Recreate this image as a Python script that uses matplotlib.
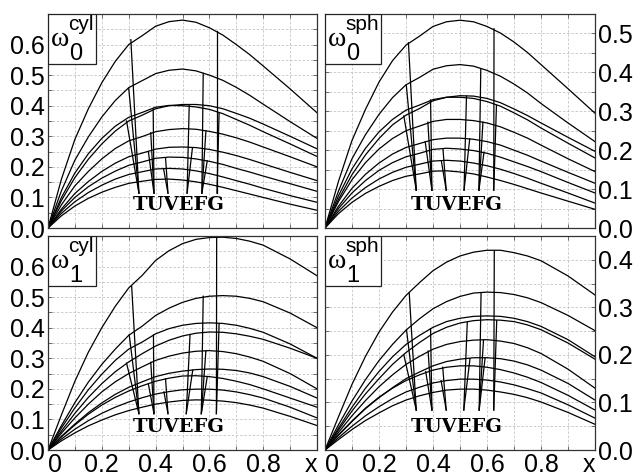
import numpy as np
import matplotlib.pyplot as plt
from matplotlib.patches import Rectangle
from matplotlib.ticker import MultipleLocator, FixedLocator

# ---------------------------------------------------------------
# datos
# ---------------------------------------------------------------

xs = [0, 0.05, 0.1, 0.15, 0.2, 0.25, 0.3, 0.35, 0.4, 0.45, 0.5,
      0.55, 0.6, 0.65, 0.7, 0.75, 0.8, 0.9, 1.0]

cyl0 = [
    [0, 0.160, 0.290, 0.390, 0.475, 0.545, 0.600, 0.629, 0.660, 0.675, 0.680, 0.673, 0.655, 0.631, 0.600, 0.567, 0.530, 0.455, 0.377],
    [0, 0.122, 0.222, 0.298, 0.363, 0.417, 0.459, 0.482, 0.505, 0.516, 0.520, 0.514, 0.500, 0.483, 0.460, 0.434, 0.405, 0.348, 0.293],
    [0, 0.090, 0.165, 0.225, 0.275, 0.317, 0.350, 0.369, 0.390, 0.400, 0.404, 0.404, 0.400, 0.390, 0.375, 0.359, 0.340, 0.300, 0.259],
    [0, 0.100, 0.180, 0.243, 0.293, 0.333, 0.362, 0.378, 0.395, 0.401, 0.400, 0.396, 0.388, 0.374, 0.355, 0.336, 0.315, 0.275, 0.234],
    [0, 0.076, 0.138, 0.185, 0.226, 0.260, 0.285, 0.299, 0.315, 0.322, 0.325, 0.323, 0.316, 0.307, 0.295, 0.281, 0.265, 0.233, 0.200],
    [0, 0.062, 0.113, 0.152, 0.185, 0.212, 0.233, 0.245, 0.258, 0.264, 0.265, 0.263, 0.257, 0.248, 0.237, 0.224, 0.210, 0.182, 0.155],
    [0, 0.056, 0.100, 0.135, 0.163, 0.186, 0.205, 0.216, 0.228, 0.232, 0.231, 0.226, 0.218, 0.208, 0.195, 0.183, 0.170, 0.145, 0.120],
    [0, 0.048, 0.086, 0.116, 0.140, 0.160, 0.175, 0.184, 0.193, 0.195, 0.193, 0.187, 0.178, 0.167, 0.155, 0.143, 0.130, 0.106, 0.084],
    [0, 0.040, 0.072, 0.097, 0.117, 0.133, 0.146, 0.153, 0.159, 0.160, 0.157, 0.151, 0.143, 0.133, 0.122, 0.111, 0.100, 0.078, 0.058],
]

sph0 = [
    [0, 0.120, 0.225, 0.305, 0.375, 0.430, 0.470, 0.493, 0.518, 0.530, 0.534, 0.530, 0.518, 0.501, 0.478, 0.451, 0.420, 0.358, 0.295],
    [0, 0.095, 0.178, 0.240, 0.292, 0.335, 0.368, 0.387, 0.408, 0.417, 0.420, 0.416, 0.405, 0.390, 0.370, 0.347, 0.320, 0.270, 0.222],
    [0, 0.074, 0.137, 0.188, 0.230, 0.265, 0.290, 0.307, 0.327, 0.336, 0.340, 0.339, 0.333, 0.322, 0.306, 0.289, 0.270, 0.233, 0.197],
    [0, 0.083, 0.152, 0.205, 0.247, 0.279, 0.303, 0.316, 0.330, 0.336, 0.336, 0.333, 0.325, 0.313, 0.296, 0.278, 0.257, 0.218, 0.180],
    [0, 0.068, 0.124, 0.168, 0.203, 0.230, 0.250, 0.262, 0.274, 0.279, 0.279, 0.276, 0.270, 0.260, 0.246, 0.231, 0.213, 0.178, 0.145],
    [0, 0.056, 0.102, 0.138, 0.167, 0.190, 0.207, 0.217, 0.227, 0.231, 0.231, 0.228, 0.222, 0.213, 0.200, 0.187, 0.172, 0.143, 0.115],
    [0, 0.050, 0.090, 0.122, 0.148, 0.168, 0.183, 0.192, 0.202, 0.205, 0.203, 0.199, 0.192, 0.182, 0.170, 0.158, 0.145, 0.117, 0.090],
    [0, 0.043, 0.077, 0.104, 0.126, 0.143, 0.156, 0.164, 0.172, 0.174, 0.172, 0.167, 0.160, 0.151, 0.140, 0.128, 0.115, 0.090, 0.064],
    [0, 0.037, 0.066, 0.089, 0.107, 0.122, 0.133, 0.139, 0.146, 0.147, 0.144, 0.139, 0.131, 0.122, 0.112, 0.101, 0.090, 0.069, 0.048],
]

cyl1 = [
    [0, 0.115, 0.225, 0.320, 0.400, 0.470, 0.530, 0.571, 0.620, 0.652, 0.675, 0.689, 0.695, 0.696, 0.692, 0.683, 0.670, 0.625, 0.570],
    [0, 0.080, 0.155, 0.222, 0.280, 0.330, 0.375, 0.405, 0.440, 0.464, 0.483, 0.496, 0.503, 0.505, 0.503, 0.496, 0.485, 0.448, 0.400],
    [0, 0.072, 0.138, 0.197, 0.248, 0.293, 0.330, 0.353, 0.380, 0.397, 0.408, 0.414, 0.416, 0.414, 0.408, 0.398, 0.385, 0.347, 0.300],
    [0, 0.062, 0.120, 0.172, 0.217, 0.256, 0.288, 0.315, 0.340, 0.359, 0.373, 0.382, 0.386, 0.385, 0.380, 0.372, 0.362, 0.333, 0.300],
    [0, 0.055, 0.105, 0.150, 0.190, 0.223, 0.250, 0.272, 0.293, 0.307, 0.317, 0.323, 0.325, 0.322, 0.315, 0.304, 0.290, 0.250, 0.200],
    [0, 0.045, 0.085, 0.122, 0.154, 0.182, 0.205, 0.223, 0.240, 0.251, 0.258, 0.263, 0.265, 0.264, 0.260, 0.252, 0.240, 0.208, 0.170],
    [0, 0.043, 0.082, 0.117, 0.147, 0.172, 0.193, 0.210, 0.225, 0.235, 0.242, 0.243, 0.240, 0.234, 0.225, 0.214, 0.200, 0.170, 0.140],
    [0, 0.036, 0.068, 0.096, 0.120, 0.140, 0.157, 0.171, 0.183, 0.191, 0.197, 0.199, 0.199, 0.196, 0.190, 0.181, 0.170, 0.140, 0.105],
    [0, 0.030, 0.056, 0.079, 0.098, 0.115, 0.129, 0.140, 0.150, 0.157, 0.162, 0.164, 0.163, 0.160, 0.155, 0.147, 0.137, 0.110, 0.080],
]

sph1 = [
    [0, 0.070, 0.138, 0.197, 0.248, 0.290, 0.325, 0.352, 0.377, 0.395, 0.408, 0.416, 0.420, 0.420, 0.415, 0.408, 0.398, 0.366, 0.326],
    [0, 0.053, 0.103, 0.148, 0.188, 0.222, 0.252, 0.276, 0.297, 0.312, 0.323, 0.330, 0.332, 0.331, 0.327, 0.320, 0.310, 0.283, 0.251],
    [0, 0.046, 0.090, 0.130, 0.165, 0.196, 0.222, 0.241, 0.258, 0.270, 0.277, 0.281, 0.282, 0.281, 0.277, 0.270, 0.260, 0.232, 0.196],
    [0, 0.042, 0.082, 0.118, 0.150, 0.180, 0.205, 0.226, 0.245, 0.258, 0.267, 0.272, 0.274, 0.273, 0.270, 0.263, 0.253, 0.225, 0.191],
    [0, 0.037, 0.072, 0.104, 0.133, 0.158, 0.180, 0.197, 0.212, 0.222, 0.228, 0.231, 0.232, 0.229, 0.224, 0.215, 0.203, 0.170, 0.130],
    [0, 0.031, 0.060, 0.087, 0.110, 0.131, 0.150, 0.164, 0.177, 0.186, 0.191, 0.194, 0.194, 0.192, 0.187, 0.179, 0.168, 0.140, 0.105],
    [0, 0.032, 0.061, 0.088, 0.111, 0.130, 0.146, 0.158, 0.168, 0.174, 0.177, 0.177, 0.174, 0.169, 0.162, 0.153, 0.142, 0.115, 0.084],
    [0, 0.026, 0.050, 0.072, 0.091, 0.108, 0.122, 0.132, 0.141, 0.146, 0.149, 0.149, 0.147, 0.143, 0.137, 0.129, 0.120, 0.095, 0.067],
    [0, 0.022, 0.043, 0.062, 0.078, 0.093, 0.105, 0.114, 0.121, 0.126, 0.128, 0.128, 0.126, 0.122, 0.117, 0.110, 0.101, 0.079, 0.054],
]

letters = "TUVEFG"

# puntos donde convergen las líneas de cada letra
cyl0_anchor = [0.338, 0.394, 0.446, 0.517, 0.572, 0.628]
sph0_anchor = [0.338, 0.396, 0.449, 0.515, 0.570, 0.625]
cyl1_anchor = [0.338, 0.394, 0.446, 0.514, 0.570, 0.626]
sph1_anchor = [0.338, 0.396, 0.449, 0.514, 0.571, 0.625]
anchor_y = {"cyl0": 0.114, "sph0": 0.097, "cyl1": 0.119, "sph1": 0.084}

# (letra, x, y) del extremo de cada línea sobre una curva
cyl0_links = [
    (0, 0.308, 0.616), (0, 0.300, 0.457), (0, 0.292, 0.350),
    (1, 0.391, 0.391), (1, 0.382, 0.312), (1, 0.373, 0.250),
    (2, 0.437, 0.229), (2, 0.430, 0.192),
    (3, 0.525, 0.402), (3, 0.537, 0.262),
    (4, 0.577, 0.506), (4, 0.587, 0.317), (4, 0.592, 0.220),
    (5, 0.628, 0.643), (5, 0.636, 0.375),
]
sph0_links = [
    (0, 0.309, 0.476), (0, 0.301, 0.368), (0, 0.292, 0.288),
    (1, 0.391, 0.329), (1, 0.381, 0.272), (1, 0.371, 0.222),
    (2, 0.437, 0.202), (2, 0.431, 0.172),
    (3, 0.524, 0.339), (3, 0.536, 0.229),
    (4, 0.577, 0.409), (4, 0.585, 0.272), (4, 0.589, 0.195),
    (5, 0.626, 0.512), (5, 0.635, 0.315),
]
cyl1_links = [
    (0, 0.311, 0.536), (0, 0.302, 0.377), (0, 0.292, 0.284),
    (1, 0.392, 0.376), (1, 0.382, 0.287), (1, 0.373, 0.216),
    (2, 0.437, 0.233), (2, 0.431, 0.190),
    (3, 0.528, 0.377), (3, 0.538, 0.261),
    (4, 0.577, 0.503), (4, 0.587, 0.325), (4, 0.592, 0.240),
    (5, 0.627, 0.695), (5, 0.636, 0.413),
]
sph1_links = [
    (0, 0.312, 0.330), (0, 0.302, 0.252), (0, 0.292, 0.200),
    (1, 0.391, 0.255), (1, 0.382, 0.208), (1, 0.373, 0.165),
    (2, 0.436, 0.174), (2, 0.430, 0.146),
    (3, 0.527, 0.269), (3, 0.537, 0.192),
    (4, 0.578, 0.331), (4, 0.587, 0.231), (4, 0.593, 0.194),
    (5, 0.627, 0.419), (5, 0.636, 0.272),
]

ylims = {"cyl0": 0.70, "sph0": 0.55, "cyl1": 0.70, "sph1": 0.45}
ytop_label = {"cyl0": 0.6, "sph0": 0.5, "cyl1": 0.6, "sph1": 0.4}

# ---------------------------------------------------------------
# gráfico
# ---------------------------------------------------------------

plt.rcParams['font.family'] = ['Liberation Sans', 'DejaVu Sans']

fig = plt.figure(figsize=(6.37, 4.76), dpi=100)

W, H = 637, 476
def axpos(l, t, r, b):
    return [l / W, 1 - b / H, (r - l) / W, (b - t) / H]

panels = [
    ("cyl0", cyl0, cyl0_anchor, cyl0_links, axpos(48, 14, 317, 228), "left", "cyl", "0"),
    ("sph0", sph0, sph0_anchor, sph0_links, axpos(325, 14, 595, 228), "right", "sph", "0"),
    ("cyl1", cyl1, cyl1_anchor, cyl1_links, axpos(48, 236, 317, 450), "left", "cyl", "1"),
    ("sph1", sph1, sph1_anchor, sph1_links, axpos(325, 236, 595, 450), "right", "sph", "1"),
]

lc = "black"
lw = 0.9

for key, curves, anchor, links, pos, side, sup, sub in panels:
    ax = fig.add_axes(pos)
    for c in curves:
        ax.plot(xs, c, color=lc, lw=lw, solid_joinstyle="round")
    ay = anchor_y[key]
    for k, xl, yl in links:
        ax.plot([anchor[k], xl], [ay, yl], color=lc, lw=lw)

    ax.set_xlim(0, 1)
    ax.set_ylim(0, ylims[key])

    ax.xaxis.set_major_locator(FixedLocator([0, 0.2, 0.4, 0.6, 0.8, 1.0]))
    ax.xaxis.set_minor_locator(MultipleLocator(0.1))
    yt = np.round(np.arange(0, ytop_label[key] + 0.01, 0.1), 1)
    ax.yaxis.set_major_locator(FixedLocator(yt))
    ax.yaxis.set_minor_locator(MultipleLocator(0.05))
    ax.set_yticklabels([f"{v:.1f}" for v in yt])

    ax.grid(True, which="both", color="#c4c4c4", lw=0.6, ls=(0, (3, 2)))
    ax.set_axisbelow(True)
    ax.tick_params(which="both", direction="in", top=True, right=True,
                   length=3, width=0.6, color="#555555", labelsize=18, pad=2)
    if side == "right":
        ax.yaxis.tick_right()
        ax.tick_params(which="both", left=True, labelleft=False, labelright=True)

    if key in ("cyl1", "sph1"):
        ax.set_xticklabels(["0", "0.2", "0.4", "0.6", "0.8", "x"])
        labs = ax.get_xticklabels()
        labs[0].set_ha("left")
        labs[-1].set_ha("right")
    else:
        ax.tick_params(labelbottom=False)

    for s in ax.spines.values():
        s.set_linewidth(0.9)
        s.set_color("#333333")

    # recuadro con la etiqueta
    bw = 0.178 if sup == "cyl" else 0.208
    ax.add_patch(Rectangle((0, 1 - 0.234), bw, 0.234, transform=ax.transAxes,
                           facecolor="white", edgecolor="#222222", lw=0.9, zorder=5))
    ax.text(0.010, 0.852, "ω", transform=ax.transAxes, fontsize=20,
            family=["Liberation Serif", "DejaVu Serif"], ha="left", va="baseline", zorder=6)
    ax.text(0.074, 0.925, sup, transform=ax.transAxes, fontsize=15,
            ha="left", va="baseline", zorder=6)
    ax.text(0.078, 0.785, sub, transform=ax.transAxes, fontsize=17,
            ha="left", va="baseline", zorder=6)

    ax.text(0.487, 0.107, letters, transform=ax.transAxes, fontsize=14,
            family="DejaVu Serif", weight="bold", ha="center", va="center", zorder=4)

fig.savefig("out.png", dpi=100)
